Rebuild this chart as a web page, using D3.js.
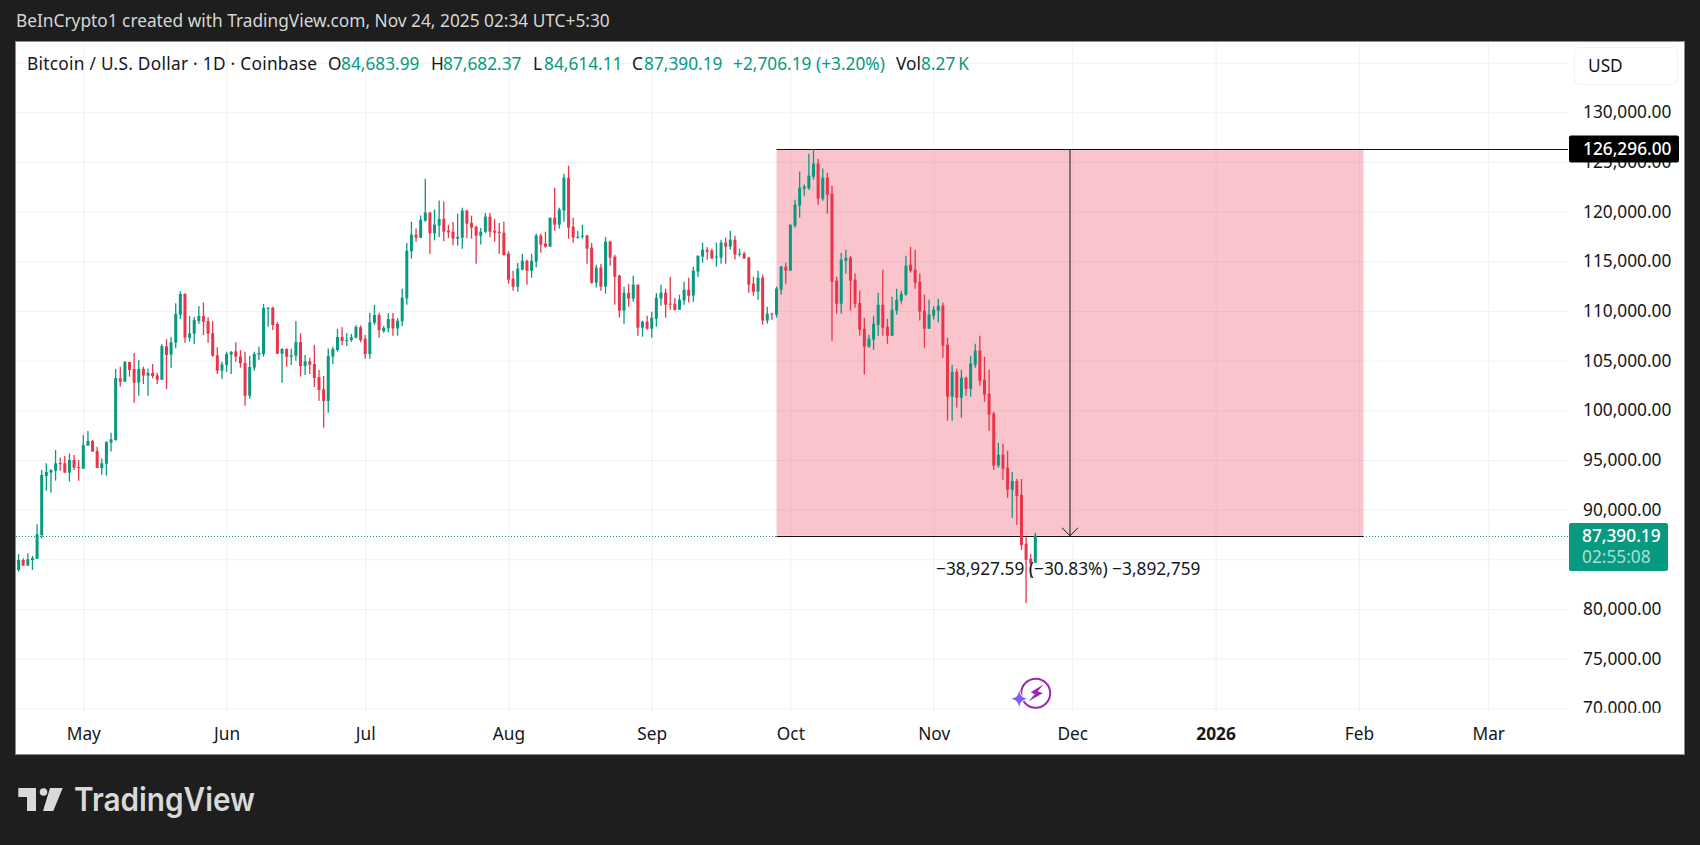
<!DOCTYPE html>
<html>
<head>
<meta charset="utf-8">
<script src="https://cdn.jsdelivr.net/npm/d3@7"></script>
<style>
html, body { margin: 0; padding: 0; background: #1e1e1e; }
svg { display: block; }
text { font-family: "Noto Sans", sans-serif; }
</style>
</head>
<body>
<svg id="chart" width="1700" height="845"></svg>
<script>
var firstDay = "2025-04-17";
var lastDay = "2025-11-23";

var opens = [
    83930, 84930, 84360, 84930, 85060, 87440, 93380, 93720, 93920, 94690,
    94660, 93720, 95000, 94290, 94120, 96440, 96910, 95900, 94190, 94620,
    96740, 97010, 103220, 102880, 104860, 104160, 102780, 104160, 103490, 103750,
    103520, 103080, 106440, 105600, 106810, 109630, 111710, 107310, 107720, 108990,
    109490, 108990, 107750, 105530, 103990, 104590, 105600, 105940, 105430, 104760,
    101470, 104290, 105600, 105670, 110230, 110330, 108690, 105700, 106170, 105400,
    105500, 106870, 104460, 104930, 104660, 103350, 102110, 100940, 105400, 106070,
    107380, 107010, 107080, 107310, 108360, 107210, 105670, 108820, 109590, 107980,
    108250, 109220, 108250, 108960, 111270, 116000, 117680, 117380, 119090, 119900,
    117820, 118590, 119260, 118080, 117980, 117280, 117380, 120100, 118860, 118490,
    117580, 117980, 119500, 118080, 117980, 117880, 115770, 113250, 112450, 114160,
    115060, 114060, 114960, 117580, 116780, 116470, 119390, 118690, 120100, 123420,
    118480, 117380, 117480, 117580, 116370, 112850, 114360, 112450, 116980, 115470,
    113550, 110030, 111840, 111240, 112650, 108320, 108920, 108220, 109220, 111240,
    111840, 110730, 110730, 110130, 111040, 112140, 111540, 113960, 115470, 116170,
    116070, 115370, 115370, 116880, 116470, 117180, 115670, 115770, 115370, 112750,
    111940, 113350, 109030, 109730, 109630, 112150, 114460, 114060, 118590, 120600,
    122310, 122350, 123520, 124830, 121310, 123420, 121810, 113050, 110730, 115060,
    115360, 113150, 110810, 108210, 106410, 107110, 108610, 110630, 108410, 107510,
    110030, 111040, 111640, 114660, 114160, 112950, 110030, 108210, 109530, 110030,
    110530, 106610, 101370, 103880, 101270, 103280, 102170, 104590, 106000, 103080,
    101670, 99660, 94420, 95530, 94220, 92010, 92880, 91470, 86550, 85050,
    84683.99
];
var highs = [
    85530, 85100, 85600, 85330, 88540, 93990, 94660, 94060, 96000, 95260,
    95400, 95660, 95500, 95000, 97510, 97920, 97010, 96340, 95160, 96880,
    97750, 104160, 104390, 104960, 104890, 105770, 105060, 104390, 104220, 104660,
    103790, 106640, 107150, 107350, 110770, 111980, 111780, 109490, 109430, 110500,
    110840, 109360, 108990, 106340, 104890, 105900, 105970, 106840, 106070, 105900,
    105470, 105900, 106410, 110700, 110370, 110430, 108860, 106240, 106240, 106200,
    108990, 107750, 105570, 105300, 106570, 104060, 103450, 106210, 106410, 108190,
    108360, 107750, 107680, 108550, 108550, 107580, 109830, 110600, 109830, 108490,
    109760, 109800, 109290, 112240, 116840, 118990, 118290, 119600, 123320, 120000,
    120200, 121110, 121010, 118690, 118960, 119800, 120400, 120200, 119600, 118590,
    118350, 119860, 119860, 119260, 118860, 118990, 116000, 114060, 114830, 115770,
    115160, 115770, 117780, 117780, 117980, 119390, 122410, 120400, 123820, 124630,
    119390, 118080, 118690, 117680, 116840, 114660, 114760, 117450, 117080, 115670,
    113650, 112450, 112720, 113550, 112650, 109020, 109520, 109930, 111810, 112650,
    112240, 113450, 111310, 111640, 112950, 113350, 114460, 115570, 116880, 116440,
    116270, 116880, 117180, 117380, 118080, 117580, 116270, 115970, 115470, 113450,
    114060, 113650, 110430, 109830, 112450, 114560, 114860, 118690, 121200, 124030,
    122720, 125830, 126296, 125330, 124330, 123930, 122610, 113450, 115830, 116170,
    115560, 113760, 112050, 109310, 107610, 109510, 111830, 114160, 109210, 111430,
    112240, 112040, 115560, 116470, 116170, 113760, 111640, 111130, 110470, 111240,
    110830, 107310, 104590, 104190, 104090, 103380, 105490, 106700, 107510, 105390,
    104090, 99860, 96730, 96630, 95930, 93800, 93080, 93080, 87290, 85550,
    87682.37
];
var lows = [
    83760, 84360, 84340, 83930, 85050, 87110, 91910, 91710, 92920, 93920,
    93720, 92820, 93990, 92920, 94120, 96440, 95840, 94190, 93520, 93420,
    95840, 96940, 102380, 102880, 103390, 100770, 101470, 102650, 101470, 103220,
    102650, 103050, 102140, 104290, 106240, 109190, 106810, 106910, 106680, 108690,
    107580, 106810, 105400, 103660, 103150, 103860, 103660, 104890, 104290, 100470,
    101170, 103990, 105070, 105400, 108420, 108080, 105670, 102780, 104390, 104560,
    105000, 103390, 103550, 103660, 102350, 100970, 98250, 99760, 104660, 105900,
    106570, 106470, 106910, 107250, 106850, 105200, 105200, 108590, 107310, 107810,
    107850, 107510, 107510, 108450, 110630, 115270, 116980, 117350, 118990, 115770,
    117110, 117450, 117010, 117350, 116610, 116580, 116270, 117350, 117280, 114760,
    116680, 117850, 117450, 116980, 115770, 115570, 112750, 112040, 111940, 114090,
    112650, 113350, 114390, 115870, 116370, 116470, 118080, 118290, 118990, 117280,
    116880, 117280, 117280, 114760, 112750, 112350, 112040, 111740, 114560, 110630,
    109330, 108720, 110430, 110940, 107510, 107410, 108120, 107310, 108420, 110530,
    109330, 110130, 110030, 110130, 110630, 110840, 110940, 113450, 114860, 115160,
    115270, 114460, 114760, 114760, 116170, 115170, 115470, 115270, 111840, 111530,
    111130, 108620, 108720, 109120, 109330, 111640, 112750, 114060, 118390, 119400,
    121610, 122210, 123220, 120700, 121100, 119800, 107010, 109720, 109720, 113760,
    110030, 110330, 107510, 103600, 106300, 106100, 107510, 107510, 106700, 107510,
    109630, 110730, 111540, 113860, 112240, 109030, 106300, 108210, 109130, 108860,
    105300, 98960, 98960, 100270, 99260, 101470, 101370, 104290, 102480, 100870,
    97950, 94020, 94220, 93020, 91200, 89190, 88450, 85960, 80610, 83110,
    84614.11
];
var closes = [
    84930, 84360, 85000, 85130, 87510, 93490, 93790, 93990, 94660, 94620,
    93720, 95000, 94220, 94220, 96500, 96910, 95840, 94190, 94660, 96810,
    97080, 103250, 102880, 104860, 104060, 102780, 104160, 103490, 103750, 103450,
    103080, 106470, 105570, 106840, 109700, 111710, 107310, 107750, 109090, 109490,
    108920, 107720, 105500, 103990, 104620, 105670, 105870, 105400, 104730, 101470,
    104360, 105670, 105770, 110300, 110330, 108590, 105700, 106170, 105400, 105530,
    106870, 104460, 104930, 104590, 103250, 102040, 100940, 105470, 106170, 107380,
    106980, 107080, 107350, 108390, 107080, 105670, 108860, 109590, 108050, 108290,
    109190, 108250, 109020, 111340, 116070, 117680, 117380, 119190, 119900, 117820,
    118690, 119260, 117980, 117920, 117280, 117450, 120100, 118790, 118390, 117580,
    117980, 119500, 117980, 117880, 117820, 115640, 113150, 112450, 114260, 115060,
    114060, 115060, 117580, 116680, 116470, 119390, 118690, 120200, 123420, 118390,
    117380, 117480, 117580, 116270, 112850, 114360, 112450, 116980, 115370, 113450,
    110030, 111840, 111240, 112650, 108320, 108920, 108220, 109320, 111340, 111840,
    110630, 110630, 110130, 111140, 112140, 111540, 114060, 115570, 116170, 115970,
    115270, 115470, 116880, 116470, 117180, 115670, 115770, 115270, 112650, 111940,
    113350, 109030, 109730, 109660, 112250, 114460, 114060, 118690, 120700, 122410,
    122520, 123620, 124830, 121310, 123420, 121710, 112950, 110730, 115160, 115360,
    113050, 110730, 108110, 106410, 107210, 108710, 110630, 108310, 107510, 110130,
    111130, 111740, 114560, 114060, 112850, 109930, 108210, 109630, 110130, 110530,
    106500, 101370, 103880, 101270, 103280, 102170, 104690, 106000, 102980, 101570,
    99560, 94420, 95530, 94120, 92010, 92880, 91370, 86440, 84950, 84550,
    87390.19
];

var priceTicks = [70000, 75000, 80000, 85000, 90000, 95000, 100000, 105000, 110000, 115000, 120000, 125000, 130000, 135000];
var monthDates = ["2025-05-01", "2025-06-01", "2025-07-01", "2025-08-01", "2025-09-01", "2025-10-01", "2025-11-01", "2025-12-01", "2026-01-01", "2026-02-01", "2026-03-01"];
var monthLabels = ["May", "Jun", "Jul", "Aug", "Sep", "Oct", "Nov", "Dec", "2026", "Feb", "Mar"];

var toolFrom = "2025-09-28";
var toolTo = "2026-02-02";
var toolHigh = 126296;
var toolLow = 87368.41;
var lastPrice = 87390.19;

var green = "#089981";
var red = "#e8354a";
var ink = "#131722";
var fontSize = 17.3;
var parseDay = d3.utcParse("%Y-%m-%d");
var days = d3.utcDay.range(parseDay(firstDay), d3.utcDay.offset(parseDay(lastDay), 1));

var x = d3.scaleUtc()
    .domain([parseDay("2025-05-01"), parseDay("2025-12-01")])
    .range([83.3, 1072.3]);
var y = d3.scaleLinear()
    .domain([70000, 130000])
    .range([708.3, 112.3]);

function snap(v) {
    return Math.round(v) + 0.5;
}

var svg = d3.select("#chart");

// page + pane
svg.append("rect").attr("width", 1700).attr("height", 845).attr("fill", "#1e1e1e");
svg.append("rect")
    .attr("x", 15.5).attr("y", 41.5).attr("width", 1669).attr("height", 713)
    .attr("fill", "#fff").attr("stroke", "#8c8c8c");

svg.append("text")
    .attr("x", 16).attr("y", 27)
    .attr("font-size", fontSize).attr("fill", "#d6d6d6")
    .text("BeInCrypto1 created with TradingView.com, Nov 24, 2025 02:34 UTC+5:30");

// grid
var gridY = svg.append("g")
    .attr("transform", "translate(16,0)")
    .call(d3.axisLeft(y).tickValues(priceTicks).tickSize(-1552).tickFormat(""));
gridY.select(".domain").remove();
gridY.selectAll("line").attr("stroke", "#f0f1f4");

var gridX = svg.append("g")
    .attr("transform", "translate(0,712)")
    .call(d3.axisBottom(x).tickValues(monthDates.map(parseDay)).tickSize(-670).tickFormat(""));
gridX.select(".domain").remove();
gridX.selectAll("line").attr("stroke", "#f0f1f4");

// last price line
svg.append("line")
    .attr("x1", 16).attr("x2", 1568)
    .attr("y1", snap(y(lastPrice))).attr("y2", snap(y(lastPrice)))
    .attr("stroke", green).attr("stroke-dasharray", "1 2");

// price range tool
var toolLeft = x(parseDay(toolFrom));
var toolRight = x(parseDay(toolTo));
var toolMid = (toolLeft + toolRight) / 2;
svg.append("rect")
    .attr("x", toolLeft).attr("width", toolRight - toolLeft)
    .attr("y", y(toolHigh)).attr("height", y(toolLow) - y(toolHigh))
    .attr("fill", "#ef3a55").attr("fill-opacity", 0.3);
svg.append("line")
    .attr("x1", toolLeft).attr("x2", 1568)
    .attr("y1", snap(y(toolHigh))).attr("y2", snap(y(toolHigh)))
    .attr("stroke", "#111");
svg.append("line")
    .attr("x1", toolLeft).attr("x2", toolRight)
    .attr("y1", snap(y(toolLow))).attr("y2", snap(y(toolLow)))
    .attr("stroke", "#111");
svg.append("line")
    .attr("x1", toolMid).attr("x2", toolMid)
    .attr("y1", y(toolHigh)).attr("y2", y(toolLow))
    .attr("stroke", "#111");
svg.append("path")
    .attr("d", "M" + (toolMid - 8) + "," + (y(toolLow) - 8) + "L" + toolMid + "," + y(toolLow) + "L" + (toolMid + 8) + "," + (y(toolLow) - 8))
    .attr("fill", "none").attr("stroke", "#111");

// candles
var candles = svg.append("g").selectAll("g")
    .data(days)
    .enter()
    .append("g")
    .attr("fill", function(d, i) { return closes[i] >= opens[i] ? green : red; })
    .attr("stroke", function(d, i) { return closes[i] >= opens[i] ? green : red; });
candles.append("line")
    .attr("x1", function(d) { return x(d); })
    .attr("x2", function(d) { return x(d); })
    .attr("y1", function(d, i) { return y(highs[i]); })
    .attr("y2", function(d, i) { return y(lows[i]); })
    .attr("stroke-width", 1.3);
candles.append("rect")
    .attr("x", function(d) { return x(d) - 1.5; })
    .attr("width", 3)
    .attr("y", function(d, i) { return y(Math.max(opens[i], closes[i])); })
    .attr("height", function(d, i) { return Math.max(1, Math.abs(y(opens[i]) - y(closes[i]))); })
    .attr("stroke", "none");

svg.append("text")
    .attr("x", 936).attr("y", 575)
    .attr("font-size", fontSize).attr("fill", ink)
    .text("\u221238,927.59 (\u221230.83%) \u22123,892,759");

// legend line
var legendParts = [
    [27, "Bitcoin / U.S. Dollar \u00b7 1D \u00b7 Coinbase", ink],
    [328, "O", ink], [341, "84,683.99", green],
    [431, "H", ink], [443, "87,682.37", green],
    [533, "L", ink], [544, "84,614.11", green],
    [632, "C", ink], [644, "87,390.19", green],
    [733, "+2,706.19 (+3.20%)", green],
    [896, "Vol", ink], [921, "8.27\u2009K", green]
];
svg.append("g").selectAll("text")
    .data(legendParts)
    .enter()
    .append("text")
    .attr("y", 70)
    .attr("font-size", fontSize)
    .attr("x", function(d) { return d[0]; })
    .attr("fill", function(d) { return d[2]; })
    .attr("textLength", function(d, i) { return i == 0 ? 290 : null; })
    .text(function(d) { return d[1]; });

// axes
var priceAxis = svg.append("g")
    .attr("transform", "translate(1583,0)")
    .call(d3.axisRight(y).tickValues(priceTicks.slice(0, -1)).tickSize(0).tickPadding(0).tickFormat(d3.format(",.2f")));
priceAxis.select(".domain").remove();
priceAxis.selectAll("text")
    .attr("font-size", fontSize).attr("font-family", "'Noto Sans', sans-serif").attr("fill", ink)
    .attr("clip-path", function(d) { return d == 70000 ? "url(#low-clip)" : null; });
svg.append("defs").append("clipPath").attr("id", "low-clip")
    .append("rect").attr("x", -20).attr("y", -30).attr("width", 140).attr("height", 34);

var timeAxis = svg.append("g")
    .attr("transform", "translate(0,728)")
    .call(d3.axisBottom(x).tickValues(monthDates.map(parseDay)).tickSize(0).tickPadding(0)
        .tickFormat(function(d, i) { return monthLabels[i]; }));
timeAxis.select(".domain").remove();
timeAxis.selectAll("text")
    .attr("font-size", fontSize).attr("font-family", "'Noto Sans', sans-serif").attr("fill", ink)
    .attr("font-weight", function(d, i) { return monthLabels[i] == "2026" ? 700 : 400; });

// USD button
svg.append("rect")
    .attr("x", 1574.5).attr("y", 47.5).attr("width", 103).attr("height", 37).attr("rx", 5)
    .attr("fill", "#fff").attr("stroke", "#f0f1f4");
svg.append("text").attr("x", 1588).attr("y", 72).attr("font-size", fontSize).attr("fill", ink).text("USD");

// tool price tag
svg.append("rect")
    .attr("x", 1569).attr("y", y(toolHigh) - 13.5).attr("width", 110).attr("height", 27).attr("rx", 2)
    .attr("fill", "#000");
svg.append("text").attr("x", 1583).attr("y", y(toolHigh) + 6)
    .attr("font-size", fontSize).attr("font-weight", 500).attr("fill", "#fff").text(d3.format(",.2f")(toolHigh));

// last price tag
svg.append("rect")
    .attr("x", 1569).attr("y", 523).attr("width", 99).attr("height", 48).attr("rx", 2)
    .attr("fill", green);
svg.append("text").attr("x", 1582).attr("y", 542)
    .attr("font-size", fontSize).attr("font-weight", 500).attr("fill", "#fff").text(d3.format(",.2f")(lastPrice));
svg.append("text").attr("x", 1582).attr("y", 563)
    .attr("font-size", fontSize).attr("fill", "#a8e0d2").text("02:55:08");

// news bolt icon
var icon = svg.append("g").attr("transform", "translate(1035.7,693.3)");
icon.append("circle").attr("r", 14.5).attr("fill", "#fff").attr("stroke", "#9c27b0").attr("stroke-width", 2);
icon.append("path").attr("d", "M8,-9L-5,-1L-1,1L-7,8L7,0L2,-2Z").attr("fill", "#9c27b0");
icon.append("path")
    .attr("d", "M-16.5,-3C-15.5,2,-14.5,4,-8.5,5.5C-14.5,7,-15.5,9,-16.5,14C-17.5,9,-18.5,7,-24.5,5.5C-18.5,4,-17.5,2,-16.5,-3Z")
    .attr("fill", "#7c5cff").attr("stroke", "#fff").attr("stroke-width", 1.5).attr("paint-order", "stroke");

// footer logo
var logo = svg.append("g").attr("fill", "#d9d9d9");
logo.append("path").attr("d", "M18.3,788H36V811H27V797H18.3Z");
logo.append("circle").attr("cx", 43.5).attr("cy", 792).attr("r", 3.8);
logo.append("path").attr("d", "M50,788H62.7L53.3,811H43Z");
svg.append("text")
    .attr("x", 74).attr("y", 811)
    .attr("font-size", 32).attr("font-weight", 600).attr("fill", "#d9d9d9")
    .style("font-family", "Inter, sans-serif")
    .attr("textLength", 181).attr("lengthAdjust", "spacingAndGlyphs")
    .text("TradingView");
</script>
</body>
</html>
